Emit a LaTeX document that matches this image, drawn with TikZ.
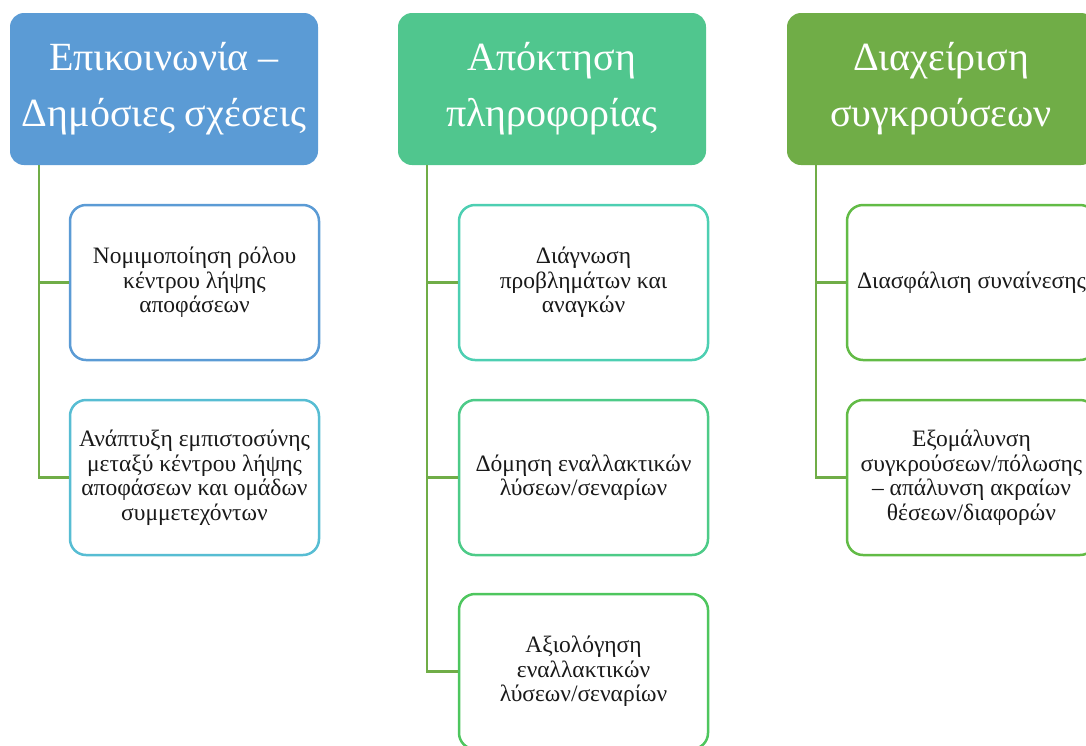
\documentclass[tikz,border=0pt]{standalone}
\usepackage{fontspec}
\setmainfont{Liberation Serif}
\definecolor{headA}{HTML}{5B9BD5}\definecolor{headB}{HTML}{50C68E}\definecolor{headC}{HTML}{70AD47}
\definecolor{edgeA}{HTML}{5B9BD5}\definecolor{edgeB}{HTML}{57BDD3}\definecolor{edgeC}{HTML}{4DCFB2}
\definecolor{edgeD}{HTML}{4DCB88}\definecolor{edgeE}{HTML}{4EC65E}\definecolor{edgeF}{HTML}{62BB46}
\definecolor{linkcol}{HTML}{70AD47}
\newcommand{\topbox}[5]{\node[draw=none,fill=#4,rounded corners=14pt,minimum width=308pt,minimum height=152pt,text=white,align=center,font=\fontsize{40}{56}\selectfont] (#1) at (#2,#3) {#5};}
\newcommand{\subbox}[5]{\node[draw=#4,line width=2.5pt,fill=white,rounded corners=16pt,minimum width=249pt,minimum height=155pt,text=black!90,align=center,font=\fontsize{23.5}{24.5}\selectfont] (#1) at (#2,#3) {#5};}
\newcommand{\trunk}[2]{\coordinate (#1) at ([xshift=29pt]#2.south west);}
\newcommand{\branch}[2]{\draw[linkcol,line width=2.5pt] (#1) |- (#2.west);}

\begin{document}
\begin{tikzpicture}[x=1pt,y=-1pt]
    \useasboundingbox (0,0) rectangle (1086,745);
    \topbox{H1}{164}{89}{headA}{Επικοινωνία –\\Δημόσιες σχέσεις}
    \topbox{H2}{552}{89}{headB}{Απόκτηση\\πληροφορίας}
    \topbox{H3}{941}{89}{headC}{Διαχείριση\\συγκρούσεων}
    \subbox{A1}{194.5}{282.5}{edgeA}{Νομιμοποίηση ρόλου\\κέντρου λήψης\\αποφάσεων}
    \subbox{A2}{194.5}{477.5}{edgeB}{Ανάπτυξη εμπιστοσύνης\\μεταξύ κέντρου λήψης\\αποφάσεων και ομάδων\\συμμετεχόντων}
    \subbox{B1}{583.5}{282.5}{edgeC}{Διάγνωση\\προβλημάτων και\\αναγκών}
    \subbox{B2}{583.5}{477.5}{edgeD}{Δόμηση εναλλακτικών\\λύσεων/σεναρίων}
    \subbox{B3}{583.5}{671.5}{edgeE}{Αξιολόγηση\\εναλλακτικών\\λύσεων/σεναρίων}
    \subbox{C1}{971.5}{282.5}{edgeF}{Διασφάλιση συναίνεσης}
    \subbox{C2}{971.5}{477.5}{edgeF}{Εξομάλυνση\\συγκρούσεων/πόλωσης\\– απάλυνση ακραίων\\θέσεων/διαφορών}
    \trunk{T1}{H1}\trunk{T2}{H2}\trunk{T3}{H3}
    \branch{T1}{A1}\branch{T1}{A2}
    \branch{T2}{B1}\branch{T2}{B2}\branch{T2}{B3}
    \branch{T3}{C1}\branch{T3}{C2}
    \end{tikzpicture}
\end{document}
